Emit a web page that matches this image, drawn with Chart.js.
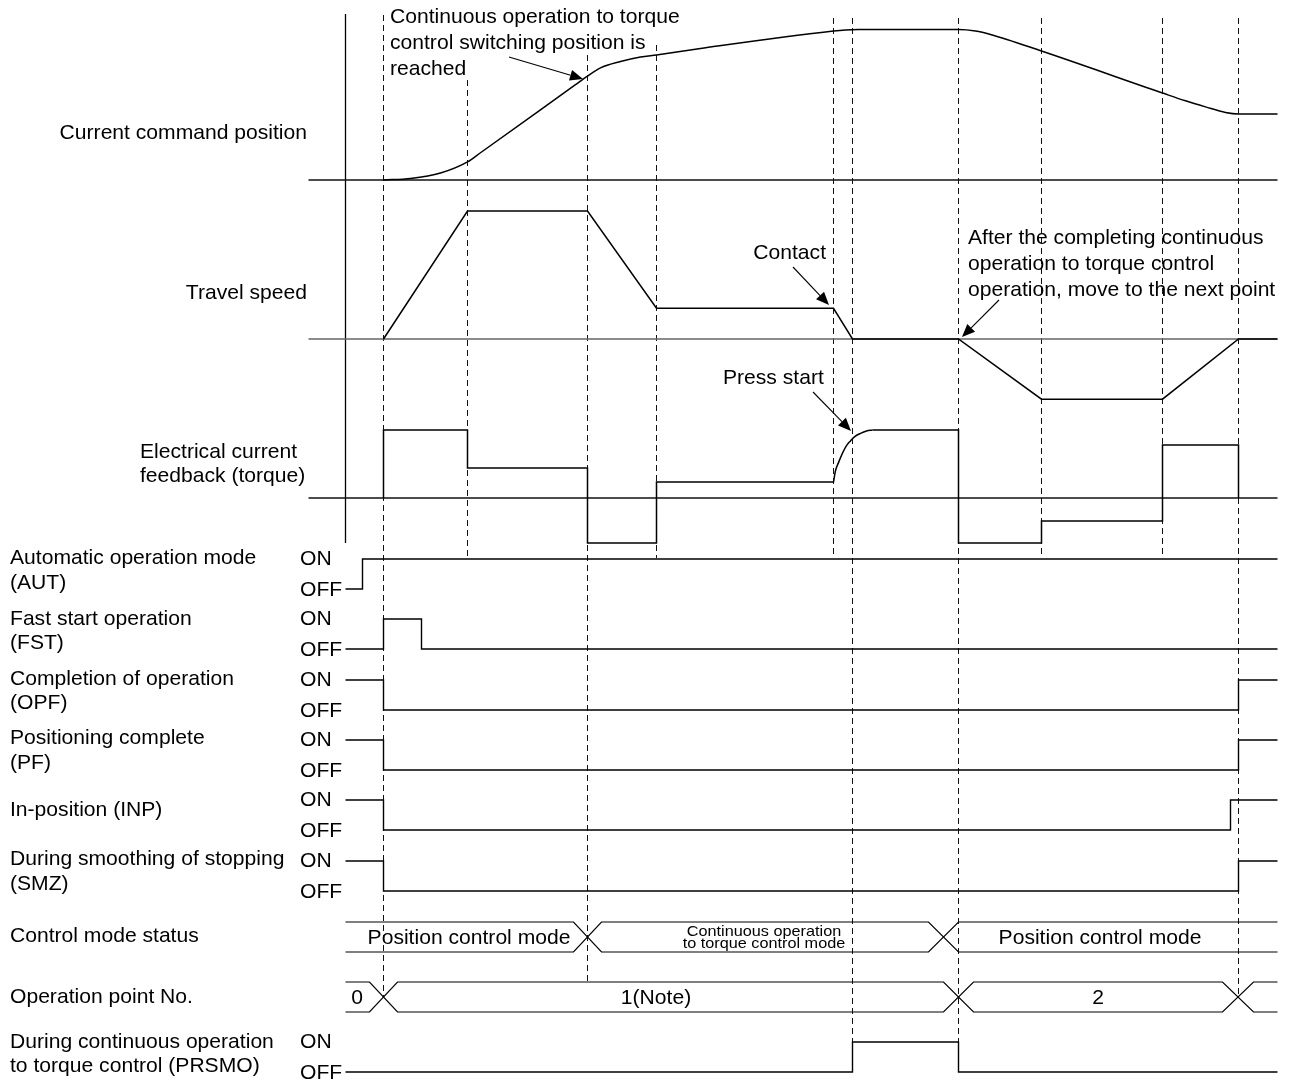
<!DOCTYPE html>
<html>
<head>
<meta charset="utf-8">
<script src="https://cdn.jsdelivr.net/npm/chart.js@4/dist/chart.umd.min.js"></script>
<style>
html,body{margin:0;padding:0;background:#fff;}
#wrap{width:1290px;height:1081px;position:relative;}
</style>
</head>
<body>
<div id="wrap"><canvas id="c"></canvas></div>
<script>
// ================= DATA (time units, t = 0 where the traces start) =================
const eventTimes = [38, 122, 242, 311, 488, 507, 613, 696, 817, 893];

// Current command position (% of max travel)
const positionTimes  = [38, 65, 95, 122, 135, 230, 242, 255, 275, 295, 311, 355, 488, 500, 513, 613, 630, 645, 696, 817, 840, 860, 880, 893, 932];
const positionValues = [0, 1.0, 4.6, 12.0, 18.1, 63.4, 69.1, 74.5, 78.7, 81.7, 83.1, 87.4, 99.0, 99.7, 100, 100, 99.0, 96.7, 85.7, 57.8, 52.6, 48.6, 44.9, 43.9, 43.9];

// Travel speed (% of max speed)
const speedTimes  = [38, 122, 242, 311, 488, 507, 613, 696, 817, 893, 932];
const speedValues = [0, 100, 100, 24, 24, 0, 0, -47, -47, 0, 0];

// Electrical current feedback (torque, %) : change points (step), then press-start rise, then steps
const torqueStepTimesA  = [38, 38, 122, 242, 311, 488];
const torqueStepValuesA = [0, 100, 44, -66, 23.5, 23.5];
const torqueRiseTimes   = [488, 490, 493, 497, 501, 505, 509, 515, 521, 527];
const torqueRiseValues  = [23.5, 40, 52, 66, 77, 84, 90, 95, 98.5, 100];
const torqueStepTimesB  = [527, 613, 696, 817, 893];
const torqueStepValuesB = [100, -66, -34, 78, 0];

// Digital signals: change times and new states (1 = ON, 0 = OFF)
const autTimes   = [0, 17, 932];   const autStates   = [0, 1, 1];
const fstTimes   = [0, 38, 76, 932]; const fstStates = [0, 1, 0, 0];
const opfTimes   = [0, 38, 893, 932]; const opfStates = [1, 0, 1, 1];
const pfTimes    = [0, 38, 893, 932]; const pfStates  = [1, 0, 1, 1];
const inpTimes   = [0, 38, 885, 932]; const inpStates = [1, 0, 1, 1];
const smzTimes   = [0, 38, 893, 932]; const smzStates = [1, 0, 1, 1];
const prsmoTimes = [0, 507, 613, 932]; const prsmoStates = [0, 1, 0, 0];

// Buses: crossing start/end times and segment labels
const ctrlCrossStart = [228, 583];
const ctrlCrossEnd   = [256, 613];
const ctrlLabels     = ['Position control mode', 'Continuous operation\nto torque control mode', 'Position control mode'];
const opCrossStart   = [24, 598, 877];
const opCrossEnd     = [52, 628, 908];
const opLabels       = ['0', '1(Note)', '2'];

const traceStart = 0, traceEnd = 932, axisLineStart = -37;

// Texts
const rowLabels = [
  'Current command position', 'Travel speed', 'Electrical current', 'feedback (torque)',
  'Automatic operation mode', '(AUT)', 'Fast start operation', '(FST)',
  'Completion of operation', '(OPF)', 'Positioning complete', '(PF)',
  'In-position (INP)', 'During smoothing of stopping', '(SMZ)',
  'Control mode status', 'Operation point No.',
  'During continuous operation', 'to torque control (PRSMO)'
];
const noteTexts = [
  'Continuous operation to torque', 'control switching position is', 'reached',
  'Contact',
  'After the completing continuous', 'operation to torque control', 'operation, move to the next point',
  'Press start'
];

// ================= LAYOUT (pixels) =================
const W = 1290, H = 1081, T0PX = 345.5;
const rowPx = {
  pos:   {base: 180, ref: 29.5, refVal: 100},
  speed: {base: 339, ref: 211,  refVal: 100},
  torque:{base: 498, ref: 430,  refVal: 100},
  AUT: {base: 589, ref: 559, refVal: 1},
  FST: {base: 649, ref: 619, refVal: 1},
  OPF: {base: 710, ref: 680, refVal: 1},
  PF:  {base: 770, ref: 740, refVal: 1},
  INP: {base: 830, ref: 800, refVal: 1},
  SMZ: {base: 891, ref: 861, refVal: 1},
  PRSMO: {base: 1072, ref: 1042, refVal: 1},
  CTRL: {base: 952, ref: 922, refVal: 1},
  OPNO: {base: 1012, ref: 982, refVal: 1}
};
const guideTop    = [15, 80, 55, 45, 18, 18, 18, 18, 18, 18];
const guideBottom = [997, 558, 982, 558, 558, 1042, 1042, 558, 558, 997];
const mainAxisTop = 14, mainAxisBottom = 543;
const rowLabelPos = [
  [307,133,'right'],[307,293,'right'],[140,452,'left'],[140,476,'left'],
  [10,558],[10,583],[10,619],[10,643],[10,679],[10,703],[10,738],[10,763],
  [10,810],[10,859],[10,884],[10,936],[10,997],[10,1042],[10,1066]
];
const notePos = [
  [390,17,'left'],[390,43,'left'],[390,69,'left'],
  [826,253,'right'],
  [968,238,'left'],[968,264,'left'],[968,290,'left'],
  [723,378,'left']
];
const arrows = [
  [509,57,583,79],[793,267,829,305],[813,392,851,431],[999,300,962,337]
];
const ctrlLabelPos = [469, 764, 1100];
const opLabelPos = [357, 656, 1098];
const onOffX = 300;

// ================= BUILD =================
function rowAxis(r){
  const k = r.refVal / (r.base - r.ref);
  const min = -(H - r.base) * k;
  return {type:'linear', display:false, min:min, max:min + H * k};
}
const pts = (ts, vs) => ts.map((t,i)=>({x:t, y:vs[i]}));
const base = {borderColor:'#000', borderWidth:1.5, pointRadius:0, fill:false, tension:0, order:0};

const datasets = [];
function add(ds){ datasets.push(Object.assign({}, base, ds)); }

// analog traces
add({yAxisID:'pos', data: pts(positionTimes, positionValues), cubicInterpolationMode:'monotone'});
add({yAxisID:'speed', data: pts(speedTimes, speedValues)});
add({yAxisID:'torque', data: pts(torqueStepTimesA, torqueStepValuesA), stepped:'before'});
add({yAxisID:'torque', data: pts(torqueRiseTimes, torqueRiseValues), cubicInterpolationMode:'monotone'});
add({yAxisID:'torque', data: pts(torqueStepTimesB, torqueStepValuesB), stepped:'before'});
// baselines
[['pos','#111'],['speed','#666'],['torque','#111']].forEach(([id,c])=>{
  add({yAxisID:id, data:[{x:axisLineStart,y:0},{x:traceEnd,y:0}], borderColor:c, borderWidth:1.4, order:5});
});
// digital
[['AUT',autTimes,autStates],['FST',fstTimes,fstStates],['OPF',opfTimes,opfStates],['PF',pfTimes,pfStates],
 ['INP',inpTimes,inpStates],['SMZ',smzTimes,smzStates],['PRSMO',prsmoTimes,prsmoStates]].forEach(([id,ts,ss])=>{
  add({yAxisID:id, data: pts(ts, ss), stepped:'before', borderWidth:1.4});
});
// buses
function busEdges(cs, ce){
  const a=[{x:traceStart,y:1}], b=[{x:traceStart,y:0}];
  let la=1, lb=0;
  cs.forEach((s,i)=>{
    a.push({x:s,y:la}); b.push({x:s,y:lb});
    la=1-la; lb=1-lb;
    a.push({x:ce[i],y:la}); b.push({x:ce[i],y:lb});
  });
  a.push({x:traceEnd,y:la}); b.push({x:traceEnd,y:lb});
  return [a,b];
}
busEdges(ctrlCrossStart, ctrlCrossEnd).forEach(d=>add({yAxisID:'CTRL', data:d, borderWidth:1.2}));
busEdges(opCrossStart, opCrossEnd).forEach(d=>add({yAxisID:'OPNO', data:d, borderWidth:1.2}));
// guides
eventTimes.forEach((t,i)=>{
  add({yAxisID:'px', data:[{x:t,y:guideTop[i]},{x:t,y:guideBottom[i]}], borderColor:'#111', borderWidth:1, borderDash:[6,4], order:10});
});
add({yAxisID:'px', data:[{x:traceStart,y:mainAxisTop},{x:traceStart,y:mainAxisBottom}], borderWidth:1.3, order:5});

const scales = {
  x:{type:'linear', display:false, min:-T0PX, max:W-T0PX},
  px:{type:'linear', display:false, min:0, max:H, reverse:true}
};
Object.keys(rowPx).forEach(k=>{ scales[k] = rowAxis(rowPx[k]); });

const FONT = '"Liberation Sans", Arial, Helvetica, sans-serif';
const MAINFONT = '21.1px ' + FONT;
const textPlugin = {
  id:'texts',
  afterDatasetsDraw(chart){
    const ctx = chart.ctx;
    ctx.save();
    ctx.fillStyle = '#000';
    ctx.textBaseline = 'middle';
    ctx.font = MAINFONT;
    rowLabels.forEach((t,i)=>{
      const p = rowLabelPos[i];
      ctx.textAlign = p[2] || 'left';
      ctx.fillText(t, p[0], p[1]);
    });
    noteTexts.forEach((t,i)=>{
      const p = notePos[i];
      ctx.textAlign = p[2];
      ctx.fillText(t, p[0], p[1]);
    });
    ctx.textAlign = 'left';
    ['AUT','FST','OPF','PF','INP','SMZ','PRSMO'].forEach(id=>{
      const ys = chart.scales[id];
      ctx.fillText('ON', onOffX, ys.getPixelForValue(1));
      ctx.fillText('OFF', onOffX, ys.getPixelForValue(0) + 1);
    });
    // bus labels
    const yc = (chart.scales.CTRL.getPixelForValue(0) + chart.scales.CTRL.getPixelForValue(1)) / 2 + 1;
    ctx.textAlign = 'center';
    ctrlLabels.forEach((t,i)=>{
      const lines = t.split('\n');
      if (lines.length > 1) {
        ctx.save();
        ctx.translate(ctrlLabelPos[i], yc);
        ctx.scale(1.12, 1);
        ctx.font = '14.5px ' + FONT;
        ctx.fillText(lines[0], 0, -6.5);
        ctx.fillText(lines[1], 0, 6);
        ctx.restore();
      } else ctx.fillText(t, ctrlLabelPos[i], yc);
    });
    const yo = (chart.scales.OPNO.getPixelForValue(0) + chart.scales.OPNO.getPixelForValue(1)) / 2 + 1;
    opLabels.forEach((t,i)=>{ ctx.fillText(t, opLabelPos[i], yo); });
    // arrows
    ctx.strokeStyle = '#000'; ctx.lineWidth = 1.1;
    arrows.forEach(([x1,y1,x2,y2])=>{
      const a = Math.atan2(y2-y1, x2-x1), L = 13, Wd = 5.5;
      const bx = x2 - L*Math.cos(a), by = y2 - L*Math.sin(a);
      ctx.beginPath(); ctx.moveTo(x1,y1); ctx.lineTo(bx,by); ctx.stroke();
      ctx.beginPath();
      ctx.moveTo(x2,y2);
      ctx.lineTo(bx + Wd*Math.sin(a), by - Wd*Math.cos(a));
      ctx.lineTo(bx - Wd*Math.sin(a), by + Wd*Math.cos(a));
      ctx.closePath(); ctx.fill();
    });
    ctx.restore();
  }
};

new Chart(document.getElementById('c'), {
  type:'line',
  data:{datasets},
  options:{
    responsive:true, maintainAspectRatio:false, animation:false, devicePixelRatio:1,
    layout:{padding:0},
    events:[],
    plugins:{legend:{display:false}, tooltip:{enabled:false}, title:{display:false}},
    scales
  },
  plugins:[textPlugin]
});
</script>
</body>
</html>
